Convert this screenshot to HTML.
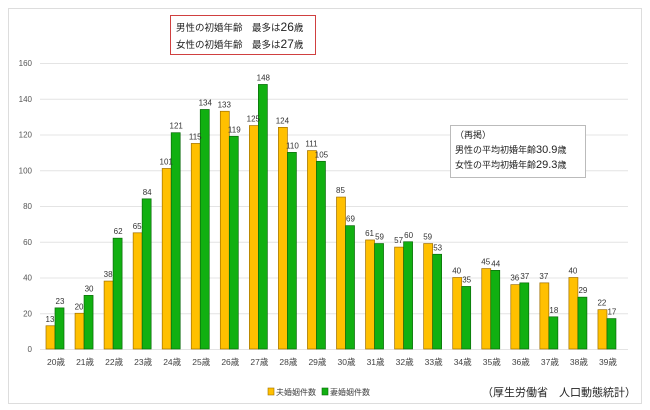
<!DOCTYPE html>
<html><head><meta charset="utf-8"><style>
body{margin:0;background:#fff;}
svg text{font-family:"Liberation Sans","Noto Sans CJK JP",sans-serif;}
</style></head><body>
<svg width="650" height="405" xmlns="http://www.w3.org/2000/svg">
<rect x="8.5" y="8.5" width="633" height="395" fill="#fff" stroke="#ddd"/>
<g id="grid" stroke="#e4e4e4" stroke-width="1"></g>
<g id="bars"></g>
<rect x="170.5" y="15.5" width="145" height="39" fill="#fff" stroke="#d04040"/>
<text x="176" y="31" font-size="9.5" fill="#222">男性の初婚年齢　最多は<tspan font-size="12">26</tspan>歳</text>
<text x="176" y="48" font-size="9.5" fill="#222">女性の初婚年齢　最多は<tspan font-size="12">27</tspan>歳</text>
<rect x="450.5" y="125.5" width="135" height="52" fill="#fff" stroke="#bbb"/>
<text x="455" y="138" font-size="9" fill="#222">（再掲）</text>
<text x="455" y="153" font-size="9" fill="#222">男性の平均初婚年齢<tspan font-size="11">30.9</tspan>歳</text>
<text x="455" y="168" font-size="9" fill="#222">女性の平均初婚年齢<tspan font-size="11">29.3</tspan>歳</text>
<rect x="268" y="388" width="6" height="7" fill="#ffc000" stroke="#a07000" stroke-width="0.6"/>
<text x="276" y="395" font-size="8" fill="#444">夫婚姻件数</text>
<rect x="322" y="388" width="6" height="7" fill="#11b011" stroke="#0a6a0a" stroke-width="0.6"/>
<text x="330" y="395" font-size="8" fill="#444">妻婚姻件数</text>
<text x="482" y="396" font-size="11" fill="#222">（厚生労働省　人口動態統計）</text>
</svg>
<script>
const ns="http://www.w3.org/2000/svg";
const g=document.getElementById('grid'),b=document.getElementById('bars');
const y0=349,k=286/160;
function el(t,a,p,txt){const e=document.createElementNS(ns,t);for(const q in a)e.setAttribute(q,a[q]);if(txt!==undefined)e.textContent=txt;p.appendChild(e);return e;}
for(let v=0;v<=160;v+=20){const y=y0-v*k;el('line',{x1:40,x2:628,y1:y+0.5,y2:y+0.5},g);
el('text',{x:32,y:y+3,'font-size':8,fill:'#555','text-anchor':'end'},b,v);}
const m=[13,20,38,65,101,115,133,125,124,111,85,61,57,59,40,45,36,37,40,22];
const f=[23,30,62,84,121,134,119,148,110,105,69,59,60,53,35,44,37,18,29,17];
for(let i=0;i<20;i++){const c=56+i*29.05;
const hm=m[i]*k,hf=f[i]*k;
el('rect',{x:c-10,y:y0-hm,width:9,height:hm,fill:'#ffc000',stroke:'#a07000','stroke-width':0.7},b);
el('rect',{x:c-1,y:y0-hf,width:9,height:hf,fill:'#11b011',stroke:'#0a6a0a','stroke-width':0.7},b);
el('text',{x:c-6,y:y0-hm-4,'font-size':8,fill:'#333','text-anchor':'middle'},b,m[i]);
el('text',{x:c+4,y:y0-hf-4,'font-size':8,fill:'#333','text-anchor':'middle'},b,f[i]);
el('text',{x:c,y:365,'font-size':8.5,fill:'#444','text-anchor':'middle'},b,(20+i)+'歳');}
</script>
</body></html>
